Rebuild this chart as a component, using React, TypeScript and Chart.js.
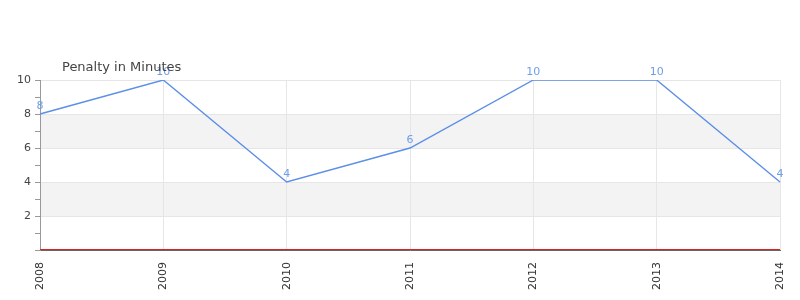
import React, { useEffect, useRef } from "react";
import { Chart, registerables } from "chart.js";

Chart.register(...registerables);

const categories = ["2008", "2009", "2010", "2011", "2012", "2013", "2014"];
const penaltyMinutes = [8, 10, 4, 6, 10, 10, 4];
const seriesTitle = "Penalty in Minutes";
const bands: [number, number][] = [
  [2, 4],
  [6, 8],
];
const plotLineValue = 0;

const FONT = "'DejaVu Sans', sans-serif";

const decorPlugin = {
  id: "decor",
  beforeDraw(chart: any) {
    const { ctx, chartArea, scales } = chart;
    const y = scales.y;
    ctx.save();
    ctx.fillStyle = "#f3f3f3";
    for (const [a, b] of bands) {
      const y1 = y.getPixelForValue(b);
      const y2 = y.getPixelForValue(a);
      ctx.fillRect(chartArea.left, y1, chartArea.right - chartArea.left, y2 - y1);
    }
    ctx.restore();
  },
  afterDatasetsDraw(chart: any) {
    const { ctx, chartArea, scales } = chart;
    const y = scales.y;
    ctx.save();
    // red plot line
    const py = Math.round(y.getPixelForValue(plotLineValue)) - 0.5;
    ctx.strokeStyle = "#e02020";
    ctx.lineWidth = 1;
    ctx.beginPath();
    ctx.moveTo(chartArea.left, py);
    ctx.lineTo(chartArea.right, py);
    ctx.stroke();
    // data labels
    const meta = chart.getDatasetMeta(0);
    ctx.fillStyle = "#6d9eeb";
    ctx.font = `11px ${FONT}`;
    ctx.textAlign = "center";
    ctx.textBaseline = "bottom";
    meta.data.forEach((pt: any, i: number) => {
      ctx.fillText(String(penaltyMinutes[i]), pt.x, pt.y - 2);
    });
    // series title
    ctx.fillStyle = "#444444";
    ctx.font = `13px ${FONT}`;
    ctx.textAlign = "left";
    ctx.textBaseline = "middle";
    ctx.fillText(seriesTitle, chartArea.left + 22, chartArea.top - 12);
    ctx.restore();
  },
};

export default function App() {
  const ref = useRef<HTMLCanvasElement | null>(null);
  useEffect(() => {
    if (!ref.current) return;
    const chart = new Chart(ref.current, {
      type: "line",
      data: {
        labels: categories,
        datasets: [
          {
            data: penaltyMinutes,
            borderColor: "#5b8fe8",
            borderWidth: 1.4,
            pointRadius: 0,
            tension: 0,
            fill: false,
          },
        ],
      },
      options: {
        animation: false,
        responsive: false,
        maintainAspectRatio: false,
        layout: { padding: { left: 0, right: 20, top: 80, bottom: 0 } },
        plugins: {
          legend: { display: false },
          tooltip: { enabled: false },
          title: { display: false },
        },
        scales: {
          x: {
            type: "category",
            offset: false,
            afterFit(scale: any) {
              scale.height = 50;
              scale.paddingLeft = 0;
              scale.paddingRight = 0;
            },
            grid: {
              color: "#e6e6e6",
              drawTicks: false,
            },
            border: { color: "#666666", width: 1 },
            ticks: {
              minRotation: 90,
              maxRotation: 90,
              padding: 12,
              color: "#333333",
              font: { family: FONT, size: 11 },
            },
          },
          y: {
            min: 0,
            max: 10,
            afterFit(scale: any) {
              scale.width = 40;
              scale.paddingTop = 0;
              scale.paddingBottom = 0;
            },
            grid: {
              color: (c: any) =>
                c.tick && c.tick.value % 2 === 0 ? "#e6e6e6" : "rgba(0,0,0,0)",
              tickColor: "#999999",
              tickLength: 5,
              drawTicks: true,
            },
            border: { color: "#999999", width: 1 },
            ticks: {
              stepSize: 1,
              autoSkip: false,
              padding: 4,
              color: "#444444",
              font: { family: FONT, size: 11 },
              callback: (v: any) => (v % 2 === 0 && v !== 0 ? String(v) : ""),
            },
          },
        },
      },
      plugins: [decorPlugin],
    });
    return () => chart.destroy();
  }, []);
  return (
    <div style={{ position: "fixed", left: 0, top: 0, width: 800, height: 300 }}>
      <canvas ref={ref} width={800} height={300} />
    </div>
  );
}
